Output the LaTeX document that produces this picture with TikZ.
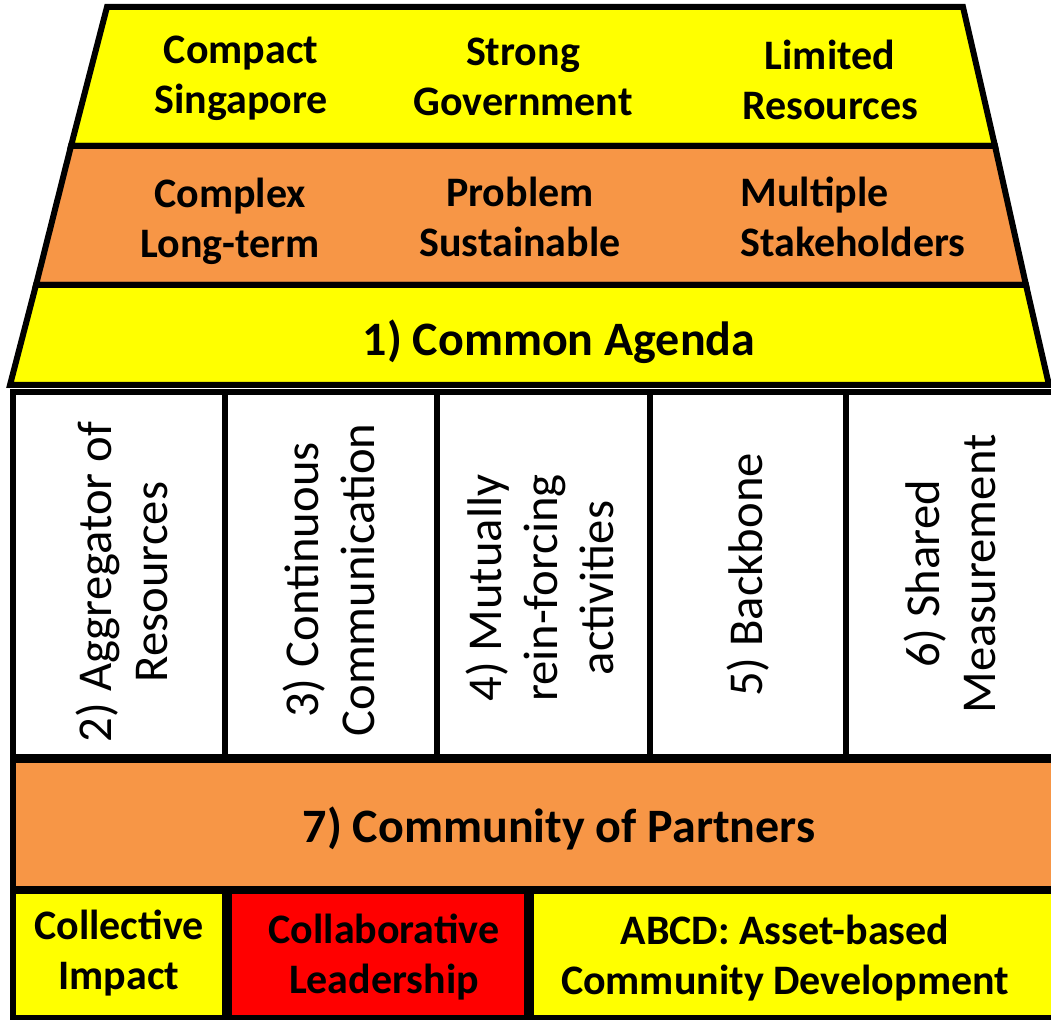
\documentclass[tikz,border=0pt]{standalone}
\usepackage{fontspec}
\setmainfont{Carlito}
\definecolor{ylw}{HTML}{FFFF00}
\definecolor{org}{HTML}{F79646}
\definecolor{rd}{HTML}{FF0000}
\tikzset{
  layer/.style={draw=black,line width=4.5pt,line join=miter},
  box/.style={draw=black,line width=3.8pt},
  bold text/.style={inner sep=0.75pt,align=center,font=\fontsize{31.5}{37.5}\selectfont\bfseries},
  big text/.style={inner sep=0.75pt,align=center,font=\fontsize{36}{43}\selectfont\bfseries},
  col text/.style={inner sep=0.75pt,align=center,rotate=90,font=\fontsize{36.5}{42}\selectfont}
}
\begin{document}
\begin{tikzpicture}[x=0.75pt,y=0.75pt,yscale=-1,xscale=1]
\clip (0,0) rectangle (1051,1020);
\fill[white] (0,0) rectangle (1051,1020);

%Shape: Trapezoid top [id:layerA]
\draw[layer,fill=ylw] (107,7) -- (963,7) -- (995,146) -- (71,146) -- cycle ;
%Shape: Trapezoid middle [id:layerB]
\draw[layer,fill=org] (71,146) -- (995,146) -- (1026,285) -- (36,285) -- cycle ;
%Shape: Trapezoid bottom [id:layerC]
\draw[layer,fill=ylw] (36,285) -- (1026,285) -- (1049,385) -- (10,385) -- cycle ;

%Shape: Columns
\draw[box,fill=white] (13,392) rectangle (225,757) ;
\draw[box,fill=white] (225,392) rectangle (437,757) ;
\draw[box,fill=white] (437,392) rectangle (650,757) ;
\draw[box,fill=white] (650,392) rectangle (846,757) ;
\draw[box,fill=white] (846,392) rectangle (1060,757) ;

%Shape: Partners band
\draw[box,fill=org] (13,760) rectangle (1060,889) ;

%Shape: Bottom row
\draw[box,fill=ylw] (13,891) rectangle (225,1018) ;
\draw[box,fill=rd] (229,891) rectangle (527,1018) ;
\draw[box,fill=ylw] (531,891) rectangle (1060,1018) ;

% Text Node
\node[bold text] (compact) at (241,78) {Compact\\Singapore};
% Text Node
\node[bold text] (strong) at (523,77) {Strong\\Government};
% Text Node
\node[bold text] (limited) at (830,80) {Limited\\Resources};
% Text Node
\node[bold text] (complex) at (230,221) {Complex\\Long-term};
% Text Node
\node[bold text] (problem) at (520,217) {Problem\\Sustainable};
% Text Node
\node[bold text,align=left] (multiple) at (853,217) {Multiple\\Stakeholders};
% Text Node
\node[big text] (agenda) at (559,342) {1) Common Agenda};

% Text Node
\node[col text] (aggregator) at (122,582) {2) Aggregator of\\Resources};
% Text Node
\node[col text] (communication) at (329,580) {3) Continuous\\Communication};
% Text Node
\node[col text] (mutually) at (540,588) {4) Mutually\\rein-forcing\\activities};
% Text Node
\node[col text] (backbone) at (748,575) {5) Backbone};
% Text Node
\node[col text] (measurement) at (950,574) {6) Shared\\Measurement};

% Text Node
\node[big text] (partners) at (559,828) {7) Community of Partners};
% Text Node
\node[bold text] (collective) at (119,953) {Collective\\Impact};
% Text Node
\node[bold text] (leadership) at (384,957) {Collaborative\\Leadership};
% Text Node
\node[bold text] (abcd) at (785,958) {ABCD: Asset-based\\Community Development};

\end{tikzpicture}
\end{document}
